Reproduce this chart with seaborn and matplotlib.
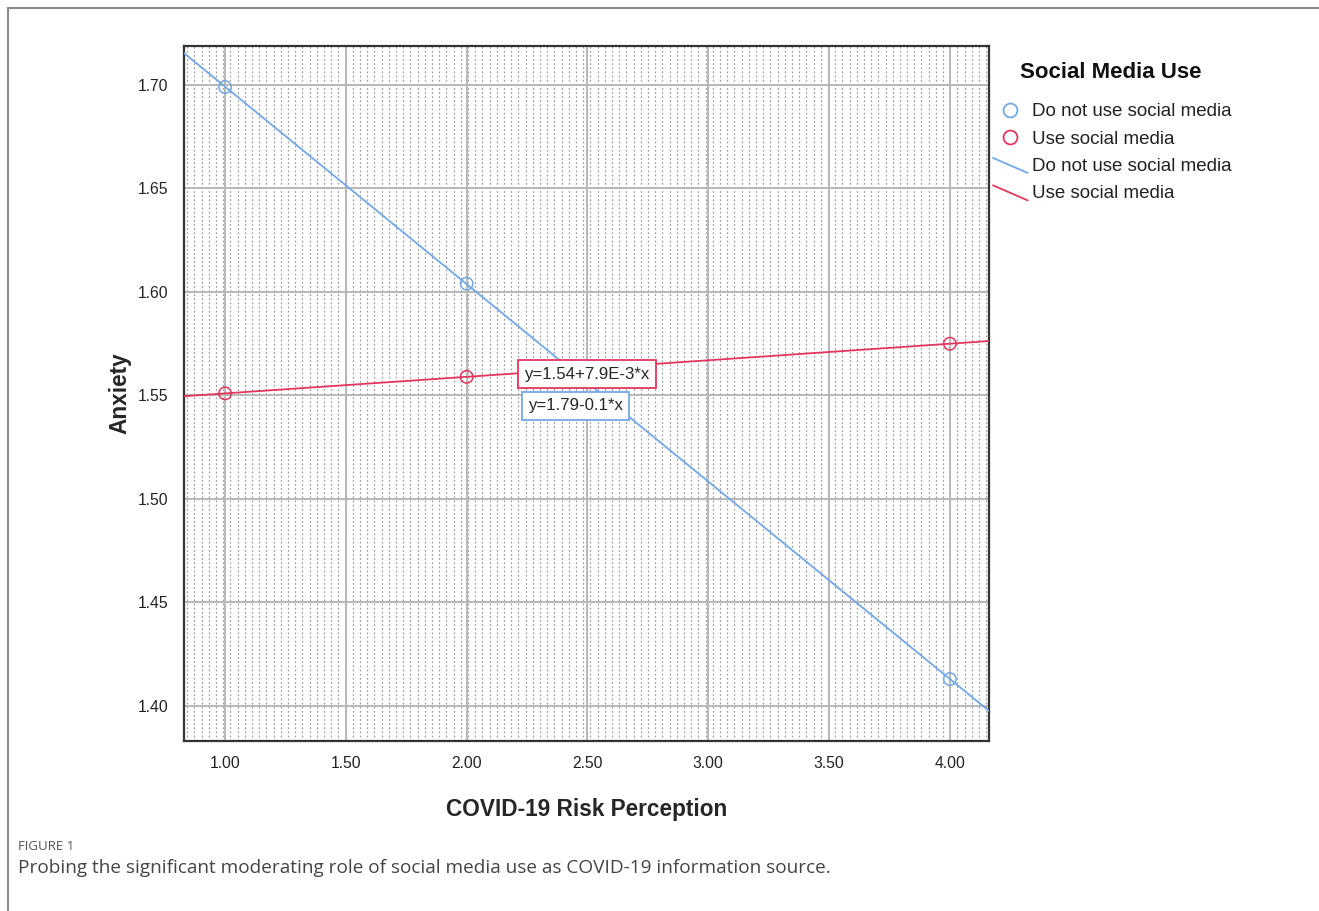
import numpy as np
import pandas as pd
import seaborn as sns
import matplotlib.pyplot as plt
from matplotlib.lines import Line2D
from matplotlib.legend_handler import HandlerBase

# data
risk = [1.0, 2.0, 4.0]
anx_no_sm = [1.699, 1.604, 1.413]
anx_sm = [1.551, 1.559, 1.575]
groups = ['Do not use social media', 'Use social media']
fit_labels = ['y=1.79-0.1*x', 'y=1.54+7.9E-3*x']
xticks = [1.0, 1.5, 2.0, 2.5, 3.0, 3.5, 4.0]
yticks = [1.40, 1.45, 1.50, 1.55, 1.60, 1.65, 1.70]

blue = '#72a8e6'
red = '#e2365d'
palette = {groups[0]: blue, groups[1]: red}

df = pd.DataFrame({
    'risk': risk + risk,
    'anx': anx_no_sm + anx_sm,
    'group': [groups[0]] * 3 + [groups[1]] * 3,
})

sns.set_style('white')
plt.rcParams['font.family'] = ['Liberation Sans', 'DejaVu Sans']

fig = plt.figure(figsize=(13.19, 9.11), dpi=100)
ax = fig.add_axes([184 / 1319, 1 - 741 / 911, 805 / 1319, 695 / 911])

xlim = (0.83, 4.162)
ylim = (1.3831, 1.7188)
ax.set_xlim(*xlim)
ax.set_ylim(*ylim)

# spss-like dotted background
for xv in np.arange(xlim[0] + 0.013, xlim[1], 0.0298):
    ax.axvline(xv, color='#9c9c9c', lw=0.9, ls=(0, (1.4, 1.9)), zorder=0)

ax.set_xticks(xticks)
ax.set_yticks(yticks)
ax.set_xticklabels(['%.2f' % v for v in xticks])
ax.set_yticklabels(['%.2f' % v for v in yticks])
ax.grid(True, color='#b8b8b8', lw=1.4, zorder=1)
ax.set_axisbelow(True)
ax.tick_params(length=0, labelsize=11.3, pad=11, colors='#222222')

for g in groups:
    sub = df[df['group'] == g]
    sns.regplot(data=sub, x='risk', y='anx', ax=ax, scatter=False, ci=None,
                truncate=False, line_kws=dict(color=palette[g], lw=1.3, zorder=3))

sns.scatterplot(data=df, x='risk', y='anx', hue='group', palette=palette, ax=ax,
                s=80, facecolors='none', linewidth=1.1, legend=False, zorder=4)
# hollow circles
coll = ax.collections[-1]
coll.set_facecolor('none')
coll.set_edgecolor([palette[g] for g in df['group']])

ax.set_xlim(*xlim)
ax.set_ylim(*ylim)

for sp in ax.spines.values():
    sp.set_color('#333333')
    sp.set_linewidth(1.6)

ax.set_xlabel('COVID-19 Risk Perception', fontsize=16.3, fontweight='bold', labelpad=19)
ax.set_ylabel('Anxiety', fontsize=16.3, fontweight='bold', labelpad=5)

# fit line labels
ax.text(2.238, 1.5603, fit_labels[1], fontsize=12.1, va='center', ha='left', zorder=6,
        bbox=dict(boxstyle='square,pad=0.38', fc='white', ec=red, lw=1.3))
ax.text(2.254, 1.5450, fit_labels[0], fontsize=12.1, va='center', ha='left', zorder=5,
        bbox=dict(boxstyle='square,pad=0.38', fc='white', ec=blue, lw=1.3))


class DiagHandler(HandlerBase):
    def create_artists(self, legend, orig_handle, xdescent, ydescent, width,
                       height, fontsize, trans):
        ln = Line2D([-xdescent, -xdescent + width],
                    [-ydescent + height * 1.0, -ydescent - height * 0.15],
                    color=orig_handle.get_color(), lw=1.3, transform=trans)
        return [ln]


class LineH(Line2D):
    pass


handles = [
    Line2D([], [], ls='none', marker='o', ms=10, mfc='none', mec=blue, mew=1.3),
    Line2D([], [], ls='none', marker='o', ms=10, mfc='none', mec=red, mew=1.3),
    LineH([], [], color=blue),
    LineH([], [], color=red),
]
labels = groups + groups
leg = fig.legend(handles, labels, loc='upper left',
                 bbox_to_anchor=(993 / 1319, 1 - 103 / 911), frameon=False,
                 fontsize=13.5, handlelength=1.85, handletextpad=0.25,
                 labelspacing=0.55, borderpad=0.0, borderaxespad=0.0,
                 handler_map={LineH: DiagHandler()})
for t in leg.get_texts():
    t.set_color('#222222')
fig.text(1111 / 1319, 1 - 72 / 911, 'Social Media Use', fontsize=16, fontweight='bold',
         ha='center', va='center', color='#111111')

# page frame and caption
fig.add_artist(Line2D([7.5 / 1319, 7.5 / 1319], [0, 1 - 7.5 / 911],
                      transform=fig.transFigure, color='#8a8a8a', lw=1.5))
fig.add_artist(Line2D([7.5 / 1319, 1], [1 - 7.5 / 911, 1 - 7.5 / 911],
                      transform=fig.transFigure, color='#8a8a8a', lw=1.5))
fig.text(18 / 1319, 1 - 846 / 911, 'FIGURE 1', fontsize=9.5, color='#555555',
         va='center', family=['Open Sans', 'DejaVu Sans'])
fig.text(18 / 1319, 1 - 868 / 911,
         'Probing the significant moderating role of social media use as COVID-19 information source.',
         fontsize=13.7, color='#444444', va='center', family=['Open Sans', 'DejaVu Sans'])

fig.savefig('out.png', dpi=100)
